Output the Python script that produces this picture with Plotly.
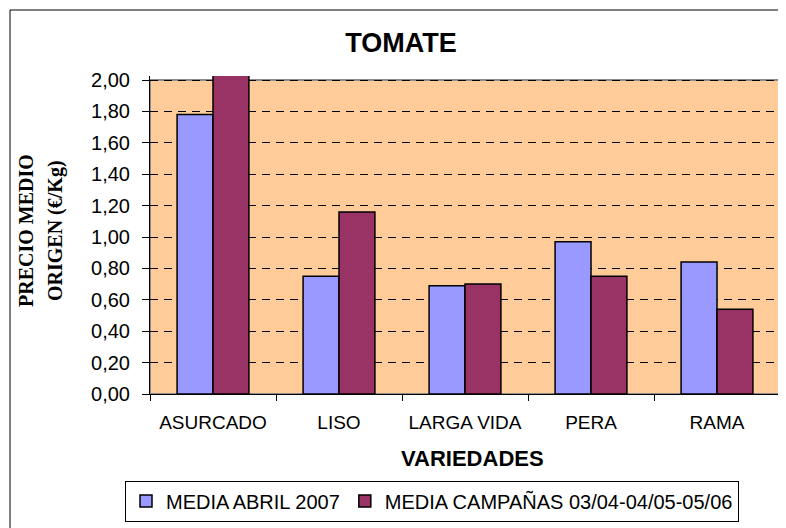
import plotly.graph_objects as go

# ── Data ──────────────────────────────────────────────────────────────────────
variedades = ["ASURCADO", "LISO", "LARGA VIDA", "PERA", "RAMA"]
media_abril_2007 = [1.78, 0.75, 0.69, 0.97, 0.84]
media_campanas = [2.05, 1.16, 0.70, 0.75, 0.54]
y_ticks = [0.0, 0.2, 0.4, 0.6, 0.8, 1.0, 1.2, 1.4, 1.6, 1.8, 2.0]

SANS = "Arial, Liberation Sans, sans-serif"
SERIF = "Times New Roman, Liberation Serif, serif"

# the page body has an 8px margin, so work in reference pixels minus 8
OFF = 8
W, H = 786 - OFF, 528 - OFF
# plot area in reference pixels: x 150..780, y 76..394  (2,00 sits at y=80)
L, R, T, B = 150 - OFF, 6, 76 - OFF, 134
pw, ph = W - L - R, H - T - B


def px(x):
    return (x - OFF - L) / pw


def py(y):
    return (H - B - (y - OFF)) / ph


fig = go.Figure()
fig.add_trace(go.Bar(
    x=variedades, y=media_abril_2007, name="MEDIA ABRIL 2007",
    marker=dict(color="#9999FF", line=dict(color="black", width=1.5)),
))
fig.add_trace(go.Bar(
    x=variedades, y=media_campanas, name="MEDIA CAMPAÑAS 03/04-04/05-05/06",
    marker=dict(color="#993366", line=dict(color="black", width=1.5)),
))

# orange plot background up to 2,00 and grey frame
fig.add_shape(type="rect", xref="paper", yref="y", x0=0, x1=1, y0=0, y1=2.0,
              fillcolor="#FFCC99", line_width=0, layer="below")
fig.add_shape(type="rect", xref="paper", yref="y", x0=0, x1=1, y0=0, y1=2.0,
              fillcolor="rgba(0,0,0,0)", line=dict(color="#8c8c8c", width=2),
              layer="between")
# outer chart frame
fig.add_shape(type="rect", xref="paper", yref="paper",
              x0=px(10), x1=px(800), y0=py(540), y1=py(10),
              line=dict(color="black", width=1))

# y axis title, two lines
fig.add_annotation(text="<b>PRECIO MEDIO</b>", xref="paper", yref="paper",
                   x=px(26), y=py(231), xanchor="center", yanchor="middle",
                   textangle=-90, showarrow=False,
                   font=dict(family=SERIF, size=20, color="black"))
fig.add_annotation(text="<b>ORIGEN (€/Kg)</b>", xref="paper", yref="paper",
                   x=px(55), y=py(231), xanchor="center", yanchor="middle",
                   textangle=-90, showarrow=False,
                   font=dict(family=SERIF, size=20, color="black"))
fig.add_annotation(text="<b>VARIEDADES</b>", xref="paper", yref="paper",
                   x=px(472), y=py(458), xanchor="center", yanchor="middle",
                   showarrow=False,
                   font=dict(family=SANS, size=22, color="black"))

fig.update_layout(
    width=W, height=H,
    margin=dict(l=L, r=R, t=T, b=B),
    paper_bgcolor="white", plot_bgcolor="white",
    separators=",.",
    title=dict(text="<b>TOMATE</b>", x=(401 - OFF) / W, xanchor="center",
               y=1 - (43 - OFF) / H, yanchor="middle",
               font=dict(family=SANS, size=27, color="black")),
    barmode="group", bargap=0.43, bargroupgap=0,
    showlegend=True,
    legend=dict(orientation="h", xref="container", yref="container",
                x=(125 - OFF) / W, xanchor="left",
                y=1 - (501 - OFF) / H, yanchor="middle",
                bordercolor="black", borderwidth=1, bgcolor="white",
                font=dict(family=SANS, size=20, color="black")),
    font=dict(family=SANS, color="black"),
)
fig.update_xaxes(
    showline=True, linecolor="black", linewidth=1,
    ticks="outside", tickson="boundaries", ticklen=6, tickcolor="black",
    tickfont=dict(family=SANS, size=19, color="black"),
    ticklabelstandoff=11,
    showgrid=False,
)
fig.update_yaxes(
    range=[0, 2.0 + 4 / 157], tickvals=y_ticks, tickformat=".2f",
    showline=True, linecolor="black", linewidth=1,
    ticks="outside", ticklen=7, tickcolor="black",
    tickfont=dict(family=SANS, size=20, color="black"),
    ticklabelstandoff=8,
    showgrid=True, gridcolor="black", gridwidth=1, griddash="8px,6px",
    zeroline=False,
)

fig.write_html("out.html")
